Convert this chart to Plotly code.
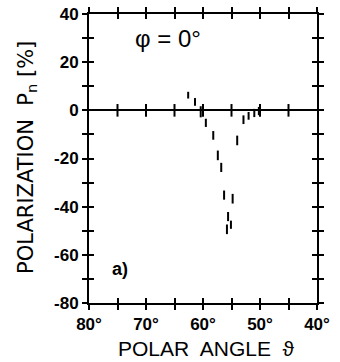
import plotly.graph_objects as go

# Data (polar angle in degrees, polarization in %)
theta = [62.6, 61.4, 60.4, 59.5, 58.2, 57.4, 56.8, 56.3, 54.8, 55.6, 55.1, 55.8, 54.0, 52.9, 52.0, 51.0, 50.2]
pol = [6.3, 3.5, -0.6, -5.2, -10.4, -18.7, -23.7, -35.2, -36.7, -44.1, -47.5, -49.4, -12.5, -3.9, -2.3, -1.1, -0.3]
err = [1.4, 1.6, 2.3, 1.7, 1.8, 2.0, 1.9, 1.9, 2.0, 1.9, 1.7, 2.0, 2.0, 1.8, 1.6, 1.7, 1.7]

x_tickvals = [80, 75, 70, 65, 60, 55, 50, 45, 40]
x_ticktext = ["80°", "", "70°", "", "60°", "", "50°", "", "40°"]
y_tickvals = [40, 30, 20, 10, 0, -10, -20, -30, -40, -50, -60, -70, -80]
y_ticktext = ["40", "", "20", "", "0", "", "-20", "", "-40", "", "-60", "", "-80"]
zero_ticks = [75, 70, 65, 60, 55, 50, 45]

FONT = "Liberation Sans"

fig = go.Figure()

fig.add_trace(go.Scatter(
    x=theta, y=pol, mode="markers",
    marker=dict(size=0.1, color="black"),
    error_y=dict(type="data", array=err, visible=True, width=0, thickness=2, color="black"),
    showlegend=False, hoverinfo="skip",
))

# tick marks on the zero line
fig.add_trace(go.Scatter(
    x=zero_ticks, y=[0] * len(zero_ticks), mode="markers",
    marker=dict(symbol="line-ns", size=9, line=dict(width=2, color="black")),
    showlegend=False, hoverinfo="skip",
))

# invisible trace on overlay axes (inside ticks)
fig.add_trace(go.Scatter(x=[60], y=[0], xaxis="x2", yaxis="y2", mode="markers",
                         marker=dict(size=0.1, opacity=0), showlegend=False, hoverinfo="skip"))

axis_common = dict(showgrid=False, zeroline=False, showline=True, linecolor="black", linewidth=2,
                   ticklen=5, tickwidth=2, tickcolor="black", mirror="ticks", automargin=False)

fig.update_layout(
    width=340, height=362,
    margin=dict(l=89, r=23, t=14, b=59),
    paper_bgcolor="white", plot_bgcolor="white",
    xaxis=dict(range=[80, 40], tickvals=x_tickvals, ticktext=x_ticktext, ticks="outside",
               tickfont=dict(family=FONT, size=17, color="black", weight="bold"), **axis_common),
    yaxis=dict(range=[-80, 40], tickvals=y_tickvals, ticktext=y_ticktext, ticks="outside",
               tickfont=dict(family=FONT, size=17, color="black", weight="bold"),
               **{**axis_common, "zeroline": True}, zerolinecolor="black", zerolinewidth=2),
    xaxis2=dict(range=[80, 40], overlaying="x", tickvals=x_tickvals, ticks="inside",
                showticklabels=False, **axis_common),
    yaxis2=dict(range=[-80, 40], overlaying="y", tickvals=y_tickvals, ticks="inside",
                showticklabels=False, **axis_common),
    annotations=[
        dict(x=66.2, y=30, xref="x", yref="y", text="φ = 0°", showarrow=False,
             font=dict(family=FONT, size=24, color="black")),
        dict(x=74.6, y=-66, xref="x", yref="y", text="a)", showarrow=False,
             font=dict(family=FONT, size=18, color="black", weight="bold")),
        dict(x=0.516, y=-0.156, xref="paper", yref="paper", text="POLAR  ANGLE  ϑ", showarrow=False,
             yanchor="middle", font=dict(family=FONT, size=21, color="black")),
        dict(x=-0.275, y=0.503, xref="paper", yref="paper", text="POLARIZATION  P<sub>n</sub> [%]",
             showarrow=False, textangle=-90, xanchor="center", yanchor="middle",
             font=dict(family="DejaVu Sans", size=21, color="black")),
    ],
)

fig.write_html("out.html", config={"displayModeBar": False},
               post_script="document.body.style.margin='0';document.body.style.overflow='hidden';")
